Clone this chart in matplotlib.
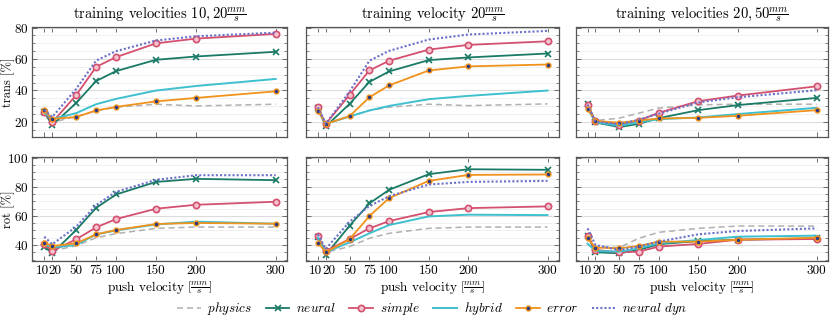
import matplotlib
matplotlib.use("Agg")
import matplotlib.pyplot as plt
from matplotlib.ticker import MultipleLocator, FixedLocator
from matplotlib.transforms import ScaledTranslation

plt.rcParams['font.family'] = ['cmr10', 'DejaVu Serif']
plt.rcParams['mathtext.fontset'] = 'cm'
plt.rcParams['axes.formatter.use_mathtext'] = True
plt.rcParams['font.size'] = 9

push_velocity = [10, 20, 50, 75, 100, 150, 200, 300]
panel_titles = [r"training velocities $10, 20\frac{mm}{s}$",
                r"training velocity $20\frac{mm}{s}$",
                r"training velocities $20, 50\frac{mm}{s}$"]

# trans [%] per panel
trans_physics = [[26.5, 19.6, 23.4, 27.0, 29.3, 31.2, 30.1, 31.2],
                 [28.0, 18.7, 23.4, 27.2, 29.3, 31.2, 30.3, 31.4],
                 [30.0, 20.8, 22.3, 25.5, 28.7, 30.8, 31.2, 31.2]]
trans_neural = [[26.0, 17.9, 32.0, 46.0, 52.3, 59.5, 61.6, 64.6],
                [28.7, 17.0, 31.4, 45.4, 52.1, 59.3, 61.0, 63.5],
                [31.6, 19.6, 16.6, 18.7, 22.3, 27.4, 30.6, 35.2]]
trans_simple = [[26.5, 19.6, 37.0, 55.0, 61.2, 70.0, 73.0, 76.0],
                [29.3, 18.7, 37.1, 52.7, 58.9, 66.0, 69.0, 71.3],
                [30.6, 20.2, 18.1, 20.8, 25.7, 33.1, 36.7, 42.6]]
trans_hybrid = [[26.0, 21.7, 25.5, 31.2, 34.6, 39.9, 42.8, 47.3],
                [27.6, 18.7, 23.4, 27.2, 30.1, 34.4, 36.5, 39.9],
                [28.7, 19.6, 17.5, 19.6, 21.7, 22.7, 24.9, 28.9]]
trans_error = [[27.2, 21.9, 23.0, 27.2, 29.5, 33.0, 35.2, 39.4],
               [27.0, 18.7, 23.6, 35.6, 43.2, 52.7, 55.3, 56.5],
               [28.2, 20.6, 19.4, 20.8, 22.1, 22.5, 23.8, 27.4]]
trans_neural_dyn = [[27.6, 23.0, 41.0, 59.0, 65.0, 71.8, 74.5, 76.8],
                    [29.3, 18.7, 39.2, 58.9, 65.2, 72.4, 75.6, 77.9],
                    [31.0, 20.0, 18.5, 21.3, 25.1, 32.3, 35.6, 40.1]]

# rot [%] per panel
rot_physics = [[40.0, 35.9, 39.5, 45.0, 47.8, 51.4, 52.3, 52.3],
               [44.6, 35.0, 38.9, 44.6, 48.0, 51.4, 52.3, 52.3],
               [45.7, 38.9, 38.2, 44.6, 48.7, 51.4, 53.0, 53.0]]
rot_neural = [[38.9, 34.3, 50.3, 65.5, 74.7, 83.3, 85.4, 84.5],
              [45.7, 33.2, 53.2, 68.5, 77.9, 88.6, 92.0, 91.6],
              [46.4, 35.0, 34.3, 36.6, 40.5, 42.7, 43.6, 44.6]]
rot_simple = [[40.5, 35.9, 43.9, 52.1, 57.8, 64.9, 67.6, 69.7],
              [46.2, 35.9, 44.1, 51.4, 56.4, 62.6, 65.3, 66.5],
              [46.4, 36.6, 35.0, 35.4, 38.9, 40.7, 43.6, 44.1]]
rot_hybrid = [[40.5, 38.2, 40.0, 47.3, 50.0, 54.1, 56.0, 54.6],
              [45.0, 35.0, 41.8, 48.0, 53.7, 59.6, 60.8, 60.5],
              [40.9, 35.9, 35.4, 37.7, 41.1, 43.4, 45.7, 46.4]]
rot_error = [[41.6, 39.3, 41.1, 47.3, 50.3, 54.4, 55.1, 54.6],
             [41.6, 35.0, 43.9, 59.8, 72.2, 84.0, 88.1, 88.4],
             [44.6, 38.2, 37.7, 39.3, 42.3, 42.3, 43.6, 45.0]]
rot_neural_dyn = [[45.7, 40.5, 52.5, 67.4, 76.5, 84.7, 87.9, 87.9],
                  [47.3, 37.3, 56.0, 66.7, 73.5, 81.5, 83.3, 84.0],
                  [51.4, 40.0, 36.6, 38.9, 42.3, 47.3, 49.6, 51.4]]

series_names = ["physics", "neural", "simple", "hybrid", "error", "neural dyn"]
legend_labels = [r"$physics$", r"$neural$", r"$simple$", r"$hybrid$", r"$error$", r"$neural\ dyn$"]

styles = {
    "physics": dict(color="#b0b0b0", ls=(0, (4, 2.5)), lw=1.1, marker=None),
    "neural": dict(color="#1a7a66", ls="-", lw=1.3, marker="x", ms=4, mew=1.2),
    "simple": dict(color="#d4506f", ls="-", lw=1.3, marker="o", ms=4.5, mew=1.2, mfc="#f3c4cf"),
    "hybrid": dict(color="#3ec0cf", ls="-", lw=1.4, marker=None),
    "error": dict(color="#f0921c", ls="-", lw=1.3, marker="o", ms=3.5, mew=1.0, mfc="#2b3a80"),
    "neural dyn": dict(color="#6b70c8", ls=(0, (1, 1)), lw=1.5, marker=None),
}

trans_data = [trans_physics, trans_neural, trans_simple, trans_hybrid, trans_error, trans_neural_dyn]
rot_data = [rot_physics, rot_neural, rot_simple, rot_hybrid, rot_error, rot_neural_dyn]

fig = plt.figure(figsize=(8.31, 3.2), dpi=100)

lefts = [32.3 / 831, 306 / 831, 575.7 / 831]
widths = [255 / 831, 253 / 831, 252.3 / 831]
top_row = (1 - 137 / 320, 110 / 320)
bot_row = (1 - 261 / 320, 103.7 / 320)

spine_col = "#555555"
handles = []
for row, (data, (b, h), ylim, ylab) in enumerate([
        (trans_data, top_row, (10.3, 80.4), "trans [%]"),
        (rot_data, bot_row, (29, 100.2), "rot [%]")]):
    for col in range(3):
        ax = fig.add_axes([lefts[col], b, widths[col], h])
        order = [0, 3, 4, 1, 2, 5]
        for si in order:
            name = series_names[si]
            st = dict(styles[name])
            ln, = ax.plot(push_velocity, data[si][col], label=legend_labels[si], zorder=3 + si * 0.1, **st)
            if row == 0 and col == 0:
                handles.append((si, ln))
        ax.set_xlim(-5, 314.5)
        ax.set_ylim(*ylim)
        ax.xaxis.set_major_locator(FixedLocator(push_velocity))
        ax.yaxis.set_major_locator(MultipleLocator(20))
        ax.yaxis.set_minor_locator(MultipleLocator(5))
        ax.grid(True, which="major", axis="y", color="#dcdcdc", lw=0.8, zorder=0)
        ax.grid(True, which="minor", axis="y", color="#eeeeee", lw=0.6, zorder=0)
        ax.tick_params(which="both", direction="in", top=True, right=True, colors=spine_col,
                       labelcolor="black", labelsize=9.5)
        ax.tick_params(which="major", length=3.5, width=0.6, pad=3)
        ax.tick_params(which="minor", length=2, width=0.5)
        for sp in ax.spines.values():
            sp.set_color(spine_col)
            sp.set_linewidth(0.9)
        if col == 0:
            ax.set_ylabel(ylab, fontsize=9)
            ax.yaxis.set_label_coords((14.5 - 32.3) / 255, 0.5)
        else:
            ax.set_yticklabels([])
        if row == 0:
            ax.set_xticklabels([])
            ax.set_title(panel_titles[col], fontsize=10.5, pad=6)
        else:
            ax.set_xticklabels([str(v) for v in push_velocity])
            labs = ax.get_xticklabels()
            labs[0].set_transform(labs[0].get_transform() + ScaledTranslation(-2 / 100, 0, fig.dpi_scale_trans))
            labs[1].set_transform(labs[1].get_transform() + ScaledTranslation(3 / 100, 0, fig.dpi_scale_trans))
            ax.set_xlabel(r"push velocity $\left[\frac{mm}{s}\right]$", fontsize=9.5, labelpad=1)

handles.sort(key=lambda t: t[0])
fig.legend([h for _, h in handles], legend_labels, loc="center", bbox_to_anchor=(0.52, 0.035),
           ncol=6, frameon=False, fontsize=9.5, handlelength=1.8, columnspacing=1.0, handletextpad=0.5)

fig.savefig("out.png", dpi=100)
